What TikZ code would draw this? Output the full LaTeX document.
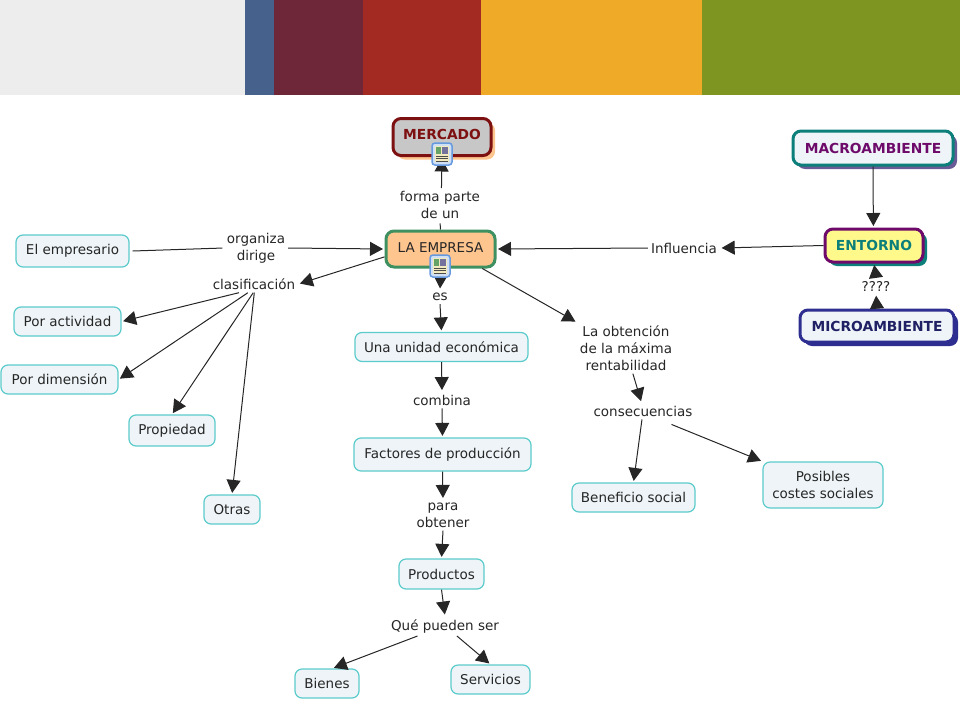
\documentclass[tikz,border=0pt]{standalone}
\usepackage{fontspec}
\setmainfont{DejaVu Sans}
\usetikzlibrary{arrows.meta,shadows}
\definecolor{bandgray}{HTML}{EDEDED}
\definecolor{bandblue}{HTML}{46628C}
\definecolor{bandwine}{HTML}{6E2639}
\definecolor{bandred}{HTML}{A32A22}
\definecolor{bandgold}{HTML}{EFAB27}
\definecolor{bandolive}{HTML}{7F9522}
\definecolor{leafline}{HTML}{5CCBCB}
\definecolor{leaffill}{HTML}{EEF4F7}
\definecolor{wineline}{HTML}{7D1010}
\definecolor{empfill}{HTML}{FFC58F}
\definecolor{empline}{HTML}{3F9060}
\definecolor{tealline}{HTML}{0D7F7A}
\definecolor{purpline}{HTML}{6E0A6A}
\definecolor{navyline}{HTML}{2E2E90}
\definecolor{macroshade}{HTML}{6A5A96}
\definecolor{iconline}{HTML}{6699DD}
\definecolor{iconfill}{HTML}{CFE0F5}
\definecolor{iconpage}{HTML}{F2EBC0}
\tikzset{>={Stealth[length=13pt,width=14pt,inset=0pt]}}
\tikzset{
    conn/.style = {draw=black!85, line width=1pt, shorten >=1.5pt},
    band/.style = {draw=none, minimum height=95pt, anchor=north west, inner sep=0pt},
    leaf/.style = {draw=leafline, fill=leaffill, line width=1.2pt, rounded corners=7pt, align=center,
        font=\fontsize{13.5}{17}\selectfont, text=black!85, inner sep=0pt},
    lbl/.style = {align=center, font=\fontsize{13.5}{17}\selectfont, text=black!85, inner sep=3pt},
    main/.style = {line width=3pt, rounded corners=8pt, inner sep=0pt, font=\fontsize{13.8}{17}\selectfont\bfseries},
    docicon/.pic = {
        \draw[draw=iconline, fill=iconfill, line width=1.5pt, rounded corners=3pt] (-10,-11) rectangle (10,11);
        \fill[iconpage] (-7,-8) rectangle (7,8);
        \fill[green!40!black!60] (-6,-7) rectangle (-1,0);
        \fill[blue!30!black!55] (0,-7) rectangle (6,0);
        \foreach \yy in {2,4.5,7} \draw[black!70, line width=0.8pt] (-6,\yy) -- (6,\yy);
    }
}
\begin{document}
\begin{tikzpicture}[x=1pt,y=-1pt]
    \useasboundingbox (0,0) rectangle (960,720);
    % top band
    \node[band, fill=bandgray, minimum width=245pt] (b1) at (0,0) {};
    \node[band, fill=bandblue, minimum width=29pt] (b2) at (245,0) {};
    \node[band, fill=bandwine, minimum width=89pt] (b3) at (274,0) {};
    \node[band, fill=bandred, minimum width=118pt] (b4) at (363,0) {};
    \node[band, fill=bandgold, minimum width=221pt] (b5) at (481,0) {};
    \node[band, fill=bandolive, minimum width=258pt] (b6) at (702,0) {};
    % main concepts
    \node[main, draw=wineline, fill=black!22, text=wineline, minimum width=98pt, minimum height=37pt, text depth=5pt,
        general shadow={shadow xshift=4pt, shadow yshift=-4pt, fill=empfill}] (mercado) at (442,137) {MERCADO};
    \node[main, draw=empline, fill=empfill, text=black!85, minimum width=109pt, minimum height=36pt, text depth=3pt,
        font=\fontsize{13.5}{17}\selectfont] (empresa) at (440.5,249) {LA EMPRESA};
    \node[main, draw=tealline, fill=leaffill, text=purpline, minimum width=160pt, minimum height=34pt,
        general shadow={shadow xshift=4pt, shadow yshift=-4pt, fill=macroshade}] (macro) at (873,148) {MACROAMBIENTE};
    \node[main, draw=purpline, fill=yellow!45, text=tealline, minimum width=98pt, minimum height=33pt, text depth=1pt,
        general shadow={shadow xshift=4pt, shadow yshift=-4pt, fill=tealline}] (entorno) at (874,245.5) {ENTORNO};
    \node[main, draw=navyline, fill=leaffill, text=navyline!70!black, minimum width=154pt, minimum height=32pt,
        general shadow={shadow xshift=4pt, shadow yshift=-4pt, fill=navyline}] (micro) at (877,326) {MICROAMBIENTE};
    % leaves
    \node[leaf, minimum width=113pt, minimum height=32pt] (emp) at (72.5,251) {El empresario};
    \node[leaf, minimum width=107pt, minimum height=29pt] (activ) at (67.5,321.5) {Por actividad};
    \node[leaf, minimum width=117pt, minimum height=29pt] (dimen) at (59.5,379.5) {Por dimensión};
    \node[leaf, minimum width=86pt, minimum height=31pt] (prop) at (172,430.5) {Propiedad};
    \node[leaf, minimum width=56pt, minimum height=29pt] (otras) at (232,509.5) {Otras};
    \node[leaf, minimum width=173pt, minimum height=29pt] (unidad) at (441.5,347) {Una unidad económica};
    \node[leaf, minimum width=177pt, minimum height=33pt] (factores) at (442.5,454.5) {Factores de producción};
    \node[leaf, minimum width=85pt, minimum height=30pt] (productos) at (441.5,574) {Productos};
    \node[leaf, minimum width=64pt, minimum height=29pt] (bienes) at (327,683.5) {Bienes};
    \node[leaf, minimum width=79pt, minimum height=29pt] (servicios) at (490.5,679.5) {Servicios};
    \node[leaf, minimum width=123pt, minimum height=29pt] (benef) at (633.5,497.5) {Beneficio social};
    \node[leaf, minimum width=120pt, minimum height=46pt] (costes) at (823,485) {Posibles\\costes sociales};
    % link phrases
    \node[lbl] (forma) at (440,205) {forma parte\\de un};
    \node[lbl] (organiza) at (256,248) {organiza\\dirige};
    \node[lbl] (clasif) at (254,284) {clasificación};
    \node[lbl] (es) at (440,297) {es};
    \node[lbl] (combina) at (442,400) {combina};
    \node[lbl] (para) at (443,515) {para\\obtener};
    \node[lbl] (puede) at (445,626) {Qué pueden ser};
    \node[lbl] (influ) at (684,248) {Influencia};
    \node[lbl] (preg) at (876,286) {????};
    \node[lbl] (renta) at (626,348) {La obtención\\de la máxima\\rentabilidad};
    \node[lbl] (conse) at (643,411) {consecuencias};
    % connectors
    \draw[conn] (empresa.north) -- (forma.south);
    \draw[conn, ->] (forma.85) -- (mercado.-91);
    \draw[conn] (emp.east) ++(3,0) -- (organiza.west);
    \draw[conn, ->] (organiza.east) -- (empresa.west);
    \draw[conn, ->] (empresa.188) -- (clasif.east);
    \draw[conn, ->] (empresa.south) ++(0,8) -- (es.north);
    \draw[conn, ->] (es.south) -- (unidad.north);
    \draw[conn, ->] (empresa.-25) -- (renta.north west);
    \draw[conn, ->] (renta.-75) -- (conse.100);
    \draw[conn, ->] (conse.-97) -- (benef.north);
    \draw[conn, ->] (conse.-15) ++(-3,5) -- (costes.north west);
    \draw[conn, ->] (clasif.-150) -- (activ.east);
    \draw[conn, ->] (clasif.-125) -- (dimen.east);
    \draw[conn, ->] (clasif.-95) -- (prop.north);
    \draw[conn, ->] (clasif.-88) -- (otras.north);
    \draw[conn, ->] (unidad.south) -- (combina.north);
    \draw[conn, ->] (combina.south) -- (factores.north);
    \draw[conn, ->] (factores.south) -- (para.north);
    \draw[conn, ->] (para.south) -- (productos.north);
    \draw[conn, ->] (productos.south) -- (puede.north);
    \draw[conn, ->] (puede.-160) -- (bienes.70);
    \draw[conn, ->] (puede.-40) -- (servicios.north);
    \draw[conn, ->] (entorno.west) -- (influ.east);
    \draw[conn, ->] (influ.west) -- (empresa.east);
    \draw[conn, ->] (macro.south) -- (entorno.92);
    \draw[conn, ->] (micro.north) -- (preg.south);
    \draw[conn, ->] (preg.north) -- (entorno.south);
    % icons
    \pic at (442,154) {docicon};
    \pic at (440,266) {docicon};
\end{tikzpicture}
\end{document}
